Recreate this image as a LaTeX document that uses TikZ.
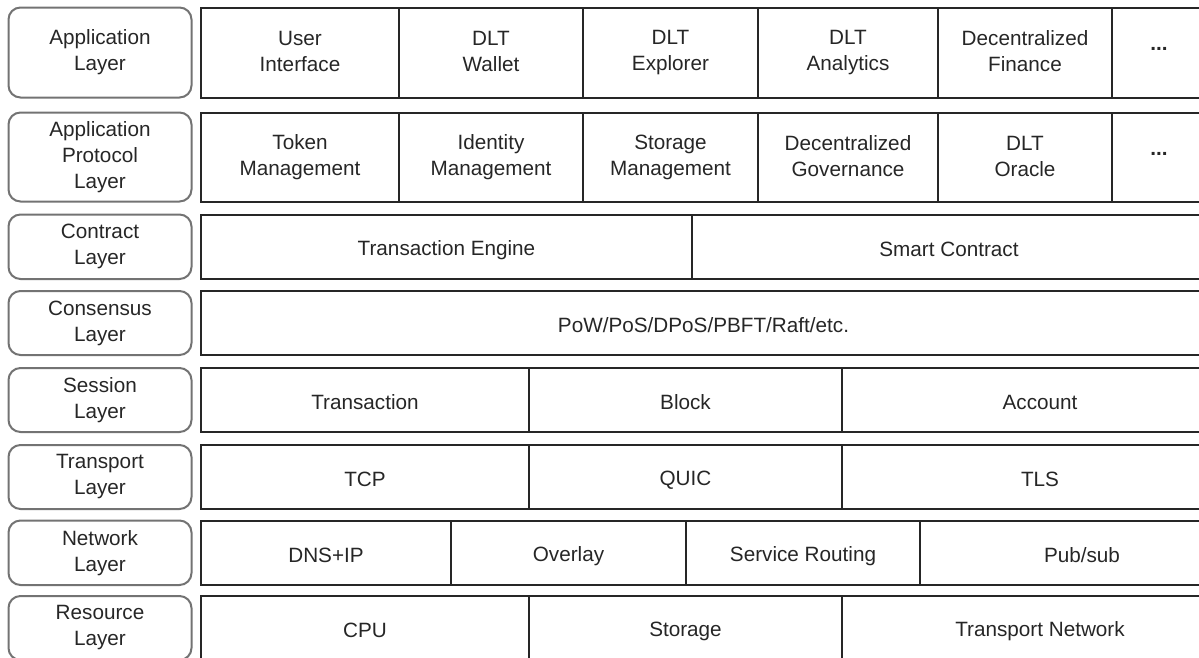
\documentclass[tikz,border=0pt]{standalone}
\usepackage{fontspec}
\setmainfont{Liberation Sans}
\newcommand\rowstrut{\rule[-2.2pt]{0pt}{23pt}}

\begin{document}
\begin{tikzpicture}[
  x=1pt, y=-1pt,
  font=\fontsize{20.7}{26}\selectfont, text=black!85,
  execute at begin node=\rowstrut, execute at end node=\rowstrut,
  lyr/.style={draw=black!55, line width=2pt, rounded corners=12pt, align=center,
              inner sep=0pt, minimum width=183pt},
  cell/.style={draw=black!85, line width=2pt, align=center, inner sep=0pt}
]
\useasboundingbox (0,0) rectangle (1199,657);
\clip (0,0) rectangle (1199,657);
% layer names
\node[lyr, minimum height=90pt] (lay1) at (100,52.5) {Application\\Layer};
\node[lyr, minimum height=89pt] (lay2) at (100,157) {Application\\Protocol\\Layer};
\node[lyr, minimum height=64.5pt] (lay3) at (100,246.75) {Contract\\Layer};
\node[lyr, minimum height=64pt] (lay4) at (100,323) {Consensus\\Layer};
\node[lyr, minimum height=64pt] (lay5) at (100,400) {Session\\Layer};
\node[lyr, minimum height=64pt] (lay6) at (100,477) {Transport\\Layer};
\node[lyr, minimum height=64.5pt] (lay7) at (100,552.75) {Network\\Layer};
\node[lyr, minimum height=64pt] (lay8) at (100,628) {Resource\\Layer};
% application layer
\node[cell, minimum width=198pt, minimum height=90pt] (ui) at (300,52.5) {User\\Interface};
\node[cell, minimum width=184pt, minimum height=90pt] (wallet) at (491,52.5) {DLT\\Wallet};
\node[cell, minimum width=175pt, minimum height=90pt] (explorer) at (670.5,52.5) {DLT\\Explorer};
\node[cell, minimum width=180pt, minimum height=90pt] (analytics) at (848,52.5) {DLT\\Analytics};
\node[cell, minimum width=174pt, minimum height=90pt] (defi) at (1025,52.5) {Decentralized\\Finance};
\node[cell, minimum width=94pt, minimum height=90pt] (more1) at (1159,52.5) {\raisebox{11pt}{\textbf{...}}};
% application protocol layer
\node[cell, minimum width=198pt, minimum height=89pt] (token) at (300,157) {Token\\Management};
\node[cell, minimum width=184pt, minimum height=89pt] (identity) at (491,157) {Identity\\Management};
\node[cell, minimum width=175pt, minimum height=89pt] (storemgmt) at (670.5,157) {Storage\\Management};
\node[cell, minimum width=180pt, minimum height=89pt] (governance) at (848,157) {Decentralized\\Governance};
\node[cell, minimum width=174pt, minimum height=89pt] (oracle) at (1025,157) {DLT\\Oracle};
\node[cell, minimum width=94pt, minimum height=89pt] (more2) at (1159,157) {\raisebox{11pt}{\textbf{...}}};
% contract layer
\node[cell, minimum width=491pt, minimum height=64.5pt] (engine) at (446.5,246.75) {Transaction Engine};
\node[cell, minimum width=514pt, minimum height=64.5pt] (smart) at (949,246.75) {Smart Contract};
% consensus layer
\node[cell, minimum width=1005pt, minimum height=64pt] (consensus) at (703.5,323) {PoW/PoS/DPoS/PBFT/Raft/etc.};
% session layer
\node[cell, minimum width=328pt, minimum height=64pt] (tx) at (365,400) {Transaction};
\node[cell, minimum width=313pt, minimum height=64pt] (block) at (685.5,400) {Block};
\node[cell, minimum width=396pt, minimum height=64pt] (account) at (1040,400) {Account};
% transport layer
\node[cell, minimum width=328pt, minimum height=64pt] (tcp) at (365,477) {TCP};
\node[cell, minimum width=313pt, minimum height=64pt] (quic) at (685.5,477) {QUIC};
\node[cell, minimum width=396pt, minimum height=64pt] (tls) at (1040,477) {TLS};
% network layer
\node[cell, minimum width=250pt, minimum height=64.5pt] (dns) at (326,552.75) {DNS+IP};
\node[cell, minimum width=235pt, minimum height=64.5pt] (overlay) at (568.5,552.75) {Overlay};
\node[cell, minimum width=234pt, minimum height=64.5pt] (routing) at (803,552.75) {Service Routing};
\node[cell, minimum width=324pt, minimum height=64.5pt] (pubsub) at (1082,552.75) {Pub/sub};
% resource layer
\node[cell, minimum width=328pt, minimum height=64pt] (cpu) at (365,628) {CPU};
\node[cell, minimum width=313pt, minimum height=64pt] (storage) at (685.5,628) {Storage};
\node[cell, minimum width=396pt, minimum height=64pt] (tnet) at (1040,628) {Transport Network};
\end{tikzpicture}
\end{document}
